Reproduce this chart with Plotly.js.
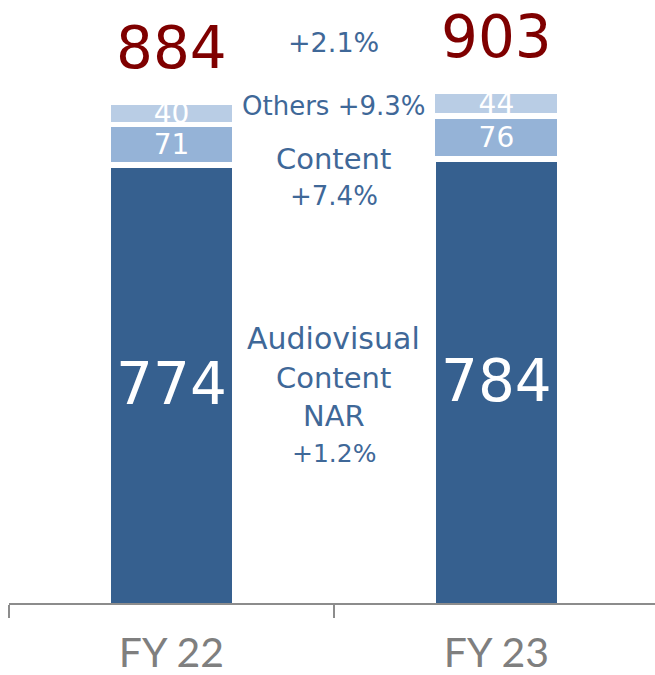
<!DOCTYPE html>
<html>
<head>
<meta charset="utf-8">
<script src="https://cdn.plot.ly/plotly-3.0.1.min.js"></script>
<style>
  html, body { margin: 0; padding: 0; background: #fff; overflow: hidden; }
  #chart { width: 655px; height: 675px; }
</style>
</head>
<body>
<div id="chart"></div>
<script>
// 資料
const years      = ['FY 22', 'FY 23'];
const avContent  = [774, 784];   // Audiovisual Content NAR
const content    = [71, 76];     // Content
const others     = [40, 44];     // Others
const totals     = [884, 903];   // 報表上的合計

// 中間的成長率標籤（由上到下）
const growthLines = ['+2.1%', 'Others +9.3%', 'Content', '+7.4%', 'Audiovisual', 'Content', 'NAR', '+1.2%'];
const growthY     = [42, 106, 159, 196, 338, 378, 416, 453];   // 像素高度
const growthSize  = [27, 26, 29, 26, 30, 29, 29, 25];

// 配色
const darkBlue  = '#36608f';
const midBlue   = '#95b3d7';
const lightBlue = '#b9cde5';
const totalRed  = '#7f0000';
const labelBlue = '#3f6898';
const axisGray  = '#8c8c8c';

const fontMain = 'DejaVu Sans, sans-serif';
const plotH = 603;

// 白色邊線做出分段間隙（最底段不加邊線，才會貼齊座標軸）
function segment(name, values, color, size, gap) {
  return {
    type: 'bar',
    name: name,
    x: years,
    y: values,
    width: gap ? 0.392 : 0.375,
    marker: { color: color, line: { color: '#ffffff', width: gap ? 5.5 : 0 } },
    text: values.map(String),
    textposition: 'inside',
    insidetextanchor: 'middle',
    constraintext: 'none',
    textfont: { family: fontMain, size: size, color: '#ffffff' },
    hoverinfo: 'skip'
  };
}

const traces = [
  segment('Audiovisual Content NAR', avContent, darkBlue, 58, false),
  segment('Content', content, midBlue, 28, true),
  segment('Others', others, lightBlue, 28, true)
];

// 合計標籤放在柱頂上方
const annotations = totals.map((t, i) => ({
  x: years[i], y: avContent[i] + content[i] + others[i],
  xref: 'x', yref: 'y',
  text: String(t), showarrow: false,
  yanchor: 'bottom', yshift: 18,
  font: { family: fontMain, size: 58, color: totalRed }
}));

growthLines.forEach((txt, i) => {
  annotations.push({
    x: 0.5, xref: 'x',
    y: 1 - growthY[i] / plotH, yref: 'paper',
    text: txt, showarrow: false,
    xanchor: 'center', yanchor: 'middle',
    font: { family: fontMain, size: growthSize[i], color: labelBlue }
  });
});

const layout = {
  width: 655,
  height: 675,
  barmode: 'stack',
  showlegend: false,
  paper_bgcolor: '#ffffff',
  plot_bgcolor: '#ffffff',
  margin: { l: 9, r: 0, t: 0, b: 72 },
  xaxis: {
    type: 'category',
    range: [-0.5, 1.488],
    showline: true,
    linecolor: axisGray,
    linewidth: 2,
    ticks: 'outside',
    tickson: 'boundaries',
    ticklen: 13,
    tickwidth: 2,
    tickcolor: axisGray,
    ticklabelstandoff: 13,
    tickfont: { family: 'Lato, sans-serif', size: 41, color: '#7f7f7f' },
    showgrid: false,
    fixedrange: true
  },
  yaxis: {
    range: [0, 1065],
    visible: false,
    showgrid: false,
    zeroline: false,
    fixedrange: true
  },
  annotations: annotations
};

Plotly.newPlot('chart', traces, layout, { displayModeBar: false, staticPlot: true });
</script>
</body>
</html>
